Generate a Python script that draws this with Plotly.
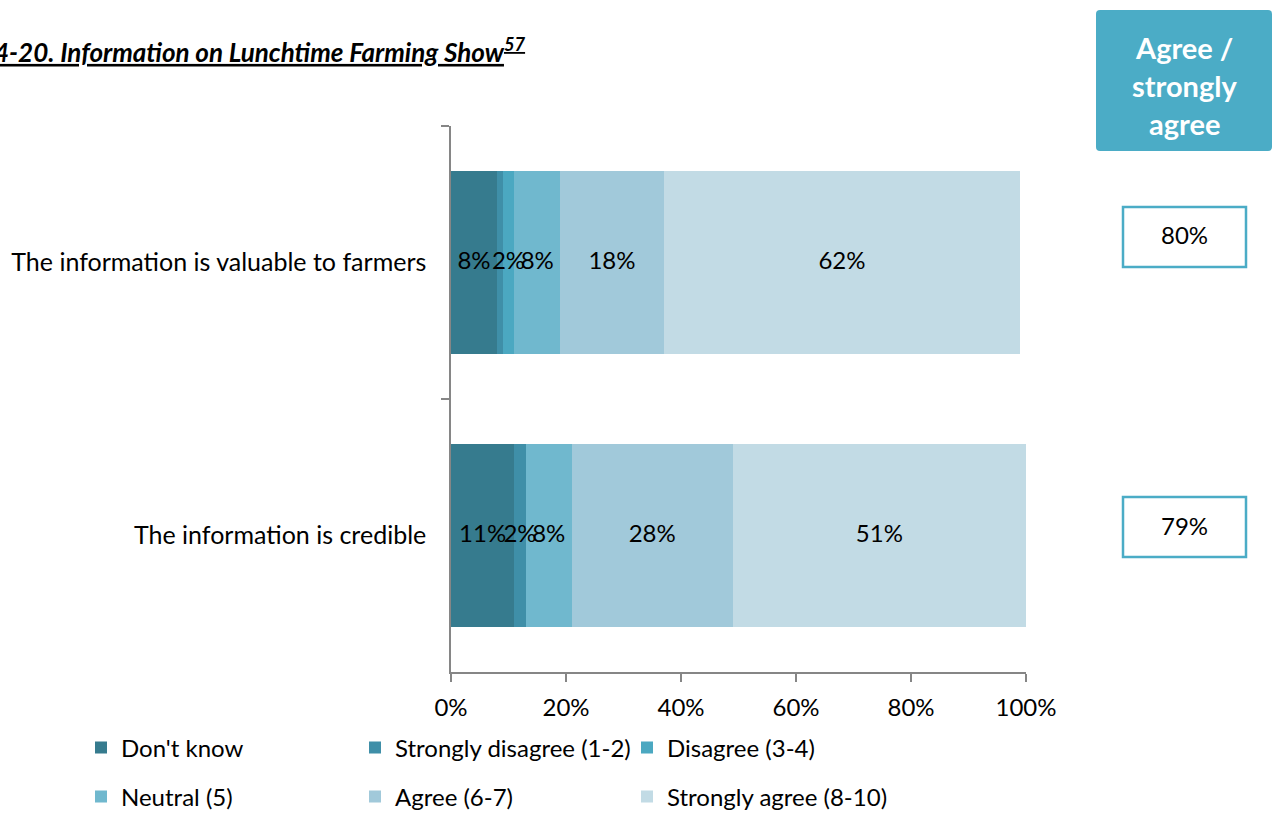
import plotly.graph_objects as go

# Survey statements (top to bottom)
statements = ["The information is valuable to farmers", "The information is credible"]

# Response categories and their share of respondents (%)
series_names = ["Don't know", "Strongly disagree (1-2)", "Disagree (3-4)",
                "Neutral (5)", "Agree (6-7)", "Strongly agree (8-10)"]
dont_know = [8, 11]
strongly_disagree = [1, 2]
disagree = [2, 0]
neutral = [8, 8]
agree = [18, 28]
strongly_agree = [62, 51]

x_ticks = [0, 20, 40, 60, 80, 100]
x_tick_labels = ["0%", "20%", "40%", "60%", "80%", "100%"]

series_values = [dont_know, strongly_disagree, disagree, neutral, agree, strongly_agree]
series_colors = ["#367B8E", "#3F8FA8", "#4BA8C1", "#70B8CE", "#A1C9DA", "#C2DBE5"]

# Combined "agree / strongly agree" share for each statement
top_two = [a + s for a, s in zip(agree, strongly_agree)]

FONT = "Lato, 'Open Sans', sans-serif"
FS = 24

# Plot area in pixels
W, H = 1275, 814
L, R, T, B = 451, 249, 126, 142
PW, PH = W - L - R, H - T - B


def px_x(px):
    return (px - L) / PW


def px_y(py):
    return (H - B - py) / PH


# Legend grid: three columns, two rows; each entry gets its own legend box
legend_cols = [81, 355, 627]
legend_rows = [748, 797]
legend_ids = ["legend"] + [f"legend{k}" for k in range(2, 7)]

fig = go.Figure()

# Stacked bars
for i, (name, vals, col) in enumerate(zip(series_names, series_values, series_colors)):
    fig.add_trace(go.Bar(
        y=statements, x=vals, name=name, orientation="h",
        marker=dict(color=col, line=dict(width=0)),
        legend=legend_ids[i],
        hoverinfo="name+x",
    ))

# Value labels centred on each segment, drawn above all bars so they can overlap
label_x, label_y, label_text = [], [], []
for row, stmt in enumerate(statements):
    start = 0
    for vals in series_values:
        v = vals[row]
        if v >= 2:
            label_x.append(start + v / 2)
            label_y.append(stmt)
            label_text.append(f"{v}%")
        start += v
fig.add_trace(go.Scatter(
    x=label_x, y=label_y, text=label_text, mode="text",
    textposition="middle center", textfont=dict(family=FONT, size=FS, color="#000000"),
    showlegend=False, hoverinfo="skip",
))

legend_layout = {}
for i, lid in enumerate(legend_ids):
    legend_layout[lid] = dict(
        orientation="h", x=px_x(legend_cols[i % 3]), y=px_y(legend_rows[i // 3]),
        xanchor="left", yanchor="middle",
        font=dict(family=FONT, size=FS, color="#000000"), bgcolor="rgba(0,0,0,0)",
    )

fig.update_layout(
    width=W, height=H,
    margin=dict(l=L, r=R, t=T, b=B, autoexpand=False),
    barmode="stack", bargap=0.33,
    plot_bgcolor="white", paper_bgcolor="white",
    font=dict(family=FONT, size=FS, color="#000000"),
    showlegend=True,
    **legend_layout,
)

fig.update_xaxes(
    range=[0, 100], tickvals=x_ticks, ticktext=x_tick_labels,
    showgrid=False, zeroline=False, showline=True, linecolor="#868686", linewidth=1.5,
    ticks="outside", ticklen=8, tickcolor="#868686", tickwidth=1.5,
    ticklabelstandoff=5, tickfont=dict(family=FONT, size=FS, color="#000000"),
    fixedrange=True,
)
fig.update_yaxes(
    autorange="reversed", showgrid=False, zeroline=False,
    showline=True, linecolor="#868686", linewidth=1.5,
    ticks="outside", ticklen=8, tickcolor="#868686", tickwidth=1.5, tickson="boundaries",
    ticklabelstandoff=18, tickfont=dict(family=FONT, size=25, color="#000000"),
    fixedrange=True,
)

# Title
fig.add_annotation(
    text="<u><b><i>4-20. Information on Lunchtime Farming Show<sup>57</sup></i></b></u>",
    xref="paper", yref="paper", x=px_x(-8), y=px_y(50), xanchor="left", yanchor="middle",
    showarrow=False, font=dict(family=FONT, size=26, color="#000000"),
)

# Header box for the combined share column
x0, x1, y0, y1, r = px_x(1096), px_x(1272), px_y(151), px_y(10), 4
rx, ry = r / PW, r / PH
fig.add_shape(
    type="path", xref="paper", yref="paper",
    path=(f"M {x0 + rx},{y0} L {x1 - rx},{y0} Q {x1},{y0} {x1},{y0 + ry} "
          f"L {x1},{y1 - ry} Q {x1},{y1} {x1 - rx},{y1} L {x0 + rx},{y1} "
          f"Q {x0},{y1} {x0},{y1 - ry} L {x0},{y0 + ry} Q {x0},{y0} {x0 + rx},{y0} Z"),
    fillcolor="#4BACC6", line=dict(width=0),
)
for line_text, py in zip(["Agree /", "strongly", "agree"], [47, 85, 123]):
    fig.add_annotation(
        text=f"<b>{line_text}</b>", xref="paper", yref="paper",
        x=px_x(1184), y=px_y(py), xanchor="center", yanchor="middle", showarrow=False,
        font=dict(family=FONT, size=29, color="#FFFFFF"),
    )

# Boxes with the combined share per statement
box_tops = [207, 497]
for val, top in zip(top_two, box_tops):
    fig.add_shape(
        type="rect", xref="paper", yref="paper",
        x0=px_x(1123), x1=px_x(1246), y0=px_y(top + 60), y1=px_y(top),
        line=dict(color="#4BACC6", width=2.5), fillcolor="white",
    )
    fig.add_annotation(
        text=f"{val}%", xref="paper", yref="paper",
        x=px_x(1184), y=px_y(top + 28), xanchor="center", yanchor="middle", showarrow=False,
        font=dict(family=FONT, size=FS, color="#000000"),
    )

fig.write_html("out.html")
